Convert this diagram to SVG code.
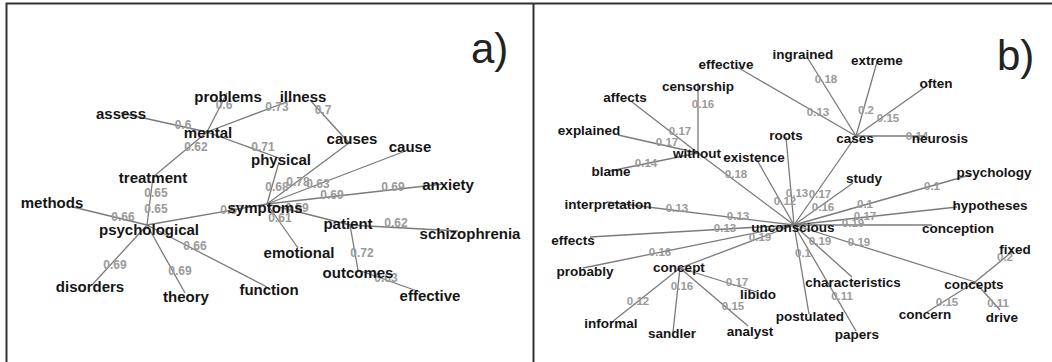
<svg xmlns="http://www.w3.org/2000/svg" width="1052" height="362" viewBox="0 0 1052 362">
<style>
.e{stroke:#7a7a7a;stroke-width:1.3;fill:none}
.n{font-family:"Liberation Sans",Arial,sans-serif;font-weight:bold;font-size:15px;fill:#151515;text-anchor:middle}
.nr{font-family:"Liberation Sans",Arial,sans-serif;font-weight:bold;font-size:13.5px;fill:#151515;text-anchor:middle}
.w{font-family:"Liberation Sans",Arial,sans-serif;font-weight:bold;font-size:12px;fill:#9a9a9a;text-anchor:middle}
.wr{font-family:"Liberation Sans",Arial,sans-serif;font-weight:bold;font-size:11.5px;fill:#9a9a9a;text-anchor:middle}
.p{font-family:"Liberation Sans",Arial,sans-serif;font-size:42px;fill:#222}
.f{stroke:#333;stroke-width:2;fill:none}
</style>
<rect width="1052" height="362" fill="#fff"/>
<g id="frame">
<path class="f" d="M6.5 362V3.5H1052M533.5 3.5V362"/>
<text class="p" x="471" y="63">a)</text>
<text class="p" x="997" y="70">b)</text>
</g>
<g id="connectors">
<line class="e" x1="121" y1="113" x2="207" y2="132"/>
<line class="e" x1="227" y1="93" x2="207" y2="132"/>
<line class="e" x1="207" y1="132" x2="292" y2="100"/>
<line class="e" x1="310" y1="100" x2="349" y2="143"/>
<line class="e" x1="207" y1="132" x2="279" y2="158"/>
<line class="e" x1="279" y1="162" x2="267" y2="204"/>
<line class="e" x1="349" y1="143" x2="267" y2="204"/>
<line class="e" x1="408" y1="150" x2="267" y2="204"/>
<line class="e" x1="443" y1="184" x2="267" y2="204"/>
<line class="e" x1="267" y1="204" x2="350" y2="225"/>
<line class="e" x1="267" y1="204" x2="298" y2="248"/>
<line class="e" x1="267" y1="204" x2="147" y2="225"/>
<line class="e" x1="207" y1="132" x2="153" y2="177"/>
<line class="e" x1="153" y1="177" x2="147" y2="225"/>
<line class="e" x1="73" y1="207" x2="147" y2="225"/>
<line class="e" x1="147" y1="225" x2="92" y2="285"/>
<line class="e" x1="147" y1="225" x2="185" y2="293"/>
<line class="e" x1="147" y1="225" x2="267" y2="287"/>
<line class="e" x1="350" y1="225" x2="458" y2="231"/>
<line class="e" x1="350" y1="225" x2="358" y2="270"/>
<line class="e" x1="358" y1="270" x2="420" y2="292"/>

<line class="e" x1="737" y1="67" x2="856" y2="136"/>
<line class="e" x1="807" y1="57" x2="856" y2="136"/>
<line class="e" x1="877" y1="62" x2="856" y2="136"/>
<line class="e" x1="928" y1="85" x2="856" y2="136"/>
<line class="e" x1="856" y1="136" x2="925" y2="136"/>
<line class="e" x1="856" y1="136" x2="794" y2="225"/>
<line class="e" x1="786" y1="137" x2="794" y2="225"/>
<line class="e" x1="757" y1="160" x2="794" y2="225"/>
<line class="e" x1="853" y1="183" x2="794" y2="225"/>
<line class="e" x1="970" y1="175" x2="794" y2="225"/>
<line class="e" x1="957" y1="207" x2="794" y2="225"/>
<line class="e" x1="932" y1="225" x2="794" y2="225"/>
<line class="e" x1="975" y1="282" x2="794" y2="225"/>
<line class="e" x1="852" y1="277" x2="794" y2="225"/>
<line class="e" x1="856" y1="331" x2="794" y2="225"/>
<line class="e" x1="809" y1="314" x2="794" y2="225"/>
<line class="e" x1="680" y1="268" x2="794" y2="225"/>
<line class="e" x1="583" y1="268" x2="794" y2="225"/>
<line class="e" x1="590" y1="237" x2="794" y2="225"/>
<line class="e" x1="607" y1="202" x2="794" y2="225"/>
<line class="e" x1="698" y1="153" x2="794" y2="225"/>
<line class="e" x1="632" y1="102" x2="698" y2="153"/>
<line class="e" x1="618" y1="135" x2="698" y2="153"/>
<line class="e" x1="610" y1="171" x2="698" y2="153"/>
<line class="e" x1="698" y1="83" x2="698" y2="153"/>
<line class="e" x1="680" y1="268" x2="612" y2="322"/>
<line class="e" x1="680" y1="268" x2="673" y2="332"/>
<line class="e" x1="680" y1="268" x2="748" y2="326"/>
<line class="e" x1="680" y1="268" x2="757" y2="292"/>
<line class="e" x1="975" y1="282" x2="1013" y2="251"/>
<line class="e" x1="975" y1="282" x2="927" y2="312"/>
<line class="e" x1="975" y1="282" x2="1000" y2="310"/>

<text class="w" x="183" y="129">0.6</text>
<text class="w" x="224" y="109">0.6</text>
<text class="w" x="277" y="111">0.73</text>
<text class="w" x="323" y="114">0.7</text>
<text class="w" x="263" y="151">0.71</text>
<text class="w" x="196" y="151">0.62</text>
<text class="w" x="156" y="197">0.65</text>
<text class="w" x="156" y="213">0.65</text>
<text class="w" x="123" y="221">0.66</text>
<text class="w" x="115" y="269">0.69</text>
<text class="w" x="180" y="275">0.69</text>
<text class="w" x="195" y="250">0.66</text>
<text class="w" x="232" y="214">0.57</text>
<text class="w" x="277" y="191">0.68</text>
<text class="w" x="298" y="186">0.78</text>
<text class="w" x="318" y="188">0.63</text>
<text class="w" x="393" y="191">0.69</text>
<text class="w" x="332" y="199">0.69</text>
<text class="w" x="297" y="212">0.59</text>
<text class="w" x="280" y="222">0.61</text>
<text class="w" x="396" y="227">0.62</text>
<text class="w" x="362" y="257">0.72</text>
<text class="w" x="386" y="282">0.63</text>

<text class="wr" x="703" y="108">0.16</text>
<text class="wr" x="680" y="135">0.17</text>
<text class="wr" x="667" y="146">0.17</text>
<text class="wr" x="646" y="167">0.14</text>
<text class="wr" x="736" y="178">0.18</text>
<text class="wr" x="818" y="116">0.13</text>
<text class="wr" x="826" y="83">0.18</text>
<text class="wr" x="866" y="114">0.2</text>
<text class="wr" x="888" y="122">0.15</text>
<text class="wr" x="917" y="140">0.14</text>
<text class="wr" x="797" y="197">0.13</text>
<text class="wr" x="820" y="198">0.17</text>
<text class="wr" x="785" y="205">0.12</text>
<text class="wr" x="823" y="211">0.16</text>
<text class="wr" x="865" y="208">0.1</text>
<text class="wr" x="865" y="220">0.17</text>
<text class="wr" x="853" y="227">0.19</text>
<text class="wr" x="932" y="190">0.1</text>
<text class="wr" x="820" y="245">0.19</text>
<text class="wr" x="859" y="246">0.19</text>
<text class="wr" x="803" y="257">0.1</text>
<text class="wr" x="842" y="300">0.11</text>
<text class="wr" x="1005" y="261">0.2</text>
<text class="wr" x="947" y="306">0.15</text>
<text class="wr" x="998" y="307">0.11</text>
<text class="wr" x="677" y="212">0.13</text>
<text class="wr" x="738" y="220">0.13</text>
<text class="wr" x="725" y="232">0.13</text>
<text class="wr" x="660" y="256">0.16</text>
<text class="wr" x="760" y="241">0.19</text>
<text class="wr" x="638" y="305">0.12</text>
<text class="wr" x="682" y="290">0.16</text>
<text class="wr" x="733" y="310">0.15</text>
<text class="wr" x="737" y="286">0.17</text>
</g>
<g id="n-assess"><text class="n" x="121" y="119">assess</text></g>
<g id="n-problems"><text class="n" x="228" y="102">problems</text></g>
<g id="n-mental"><text class="n" x="208" y="138">mental</text></g>
<g id="n-illness"><text class="n" x="303" y="102">illness</text></g>
<g id="n-causes"><text class="n" x="352" y="144">causes</text></g>
<g id="n-cause"><text class="n" x="410" y="152">cause</text></g>
<g id="n-physical"><text class="n" x="281" y="165">physical</text></g>
<g id="n-anxiety"><text class="n" x="448" y="190">anxiety</text></g>
<g id="n-symptoms"><text class="n" x="265" y="213">symptoms</text></g>
<g id="n-treatment"><text class="n" x="153" y="183">treatment</text></g>
<g id="n-methods"><text class="n" x="52" y="208">methods</text></g>
<g id="n-psychological"><text class="n" x="149" y="235">psychological</text></g>
<g id="n-disorders"><text class="n" x="90" y="292">disorders</text></g>
<g id="n-theory"><text class="n" x="186" y="302">theory</text></g>
<g id="n-function"><text class="n" x="269" y="295">function</text></g>
<g id="n-emotional"><text class="n" x="299" y="258">emotional</text></g>
<g id="n-patient"><text class="n" x="348" y="229">patient</text></g>
<g id="n-schizophrenia"><text class="n" x="470" y="239">schizophrenia</text></g>
<g id="n-outcomes"><text class="n" x="358" y="278">outcomes</text></g>
<g id="n-effective-a"><text class="n" x="430" y="301">effective</text></g>

<g id="n-effective-b"><text class="nr" x="726" y="69">effective</text></g>
<g id="n-censorship"><text class="nr" x="698" y="91">censorship</text></g>
<g id="n-affects"><text class="nr" x="625" y="102">affects</text></g>
<g id="n-explained"><text class="nr" x="589" y="135">explained</text></g>
<g id="n-without"><text class="nr" x="697" y="158">without</text></g>
<g id="n-blame"><text class="nr" x="611" y="176">blame</text></g>
<g id="n-existence"><text class="nr" x="754" y="162">existence</text></g>
<g id="n-roots"><text class="nr" x="786" y="140">roots</text></g>
<g id="n-ingrained"><text class="nr" x="803" y="59">ingrained</text></g>
<g id="n-extreme"><text class="nr" x="877" y="65">extreme</text></g>
<g id="n-often"><text class="nr" x="936" y="88">often</text></g>
<g id="n-cases"><text class="nr" x="855" y="143">cases</text></g>
<g id="n-neurosis"><text class="nr" x="940" y="143">neurosis</text></g>
<g id="n-study"><text class="nr" x="864" y="183">study</text></g>
<g id="n-psychology"><text class="nr" x="994" y="177">psychology</text></g>
<g id="n-hypotheses"><text class="nr" x="990" y="210">hypotheses</text></g>
<g id="n-conception"><text class="nr" x="958" y="233">conception</text></g>
<g id="n-unconscious"><text class="nr" x="793" y="232">unconscious</text></g>
<g id="n-interpretation"><text class="nr" x="608" y="209">interpretation</text></g>
<g id="n-effects"><text class="nr" x="573" y="245">effects</text></g>
<g id="n-probably"><text class="nr" x="585" y="276">probably</text></g>
<g id="n-concept"><text class="nr" x="679" y="272">concept</text></g>
<g id="n-informal"><text class="nr" x="611" y="328">informal</text></g>
<g id="n-sandler"><text class="nr" x="672" y="338">sandler</text></g>
<g id="n-analyst"><text class="nr" x="750" y="336">analyst</text></g>
<g id="n-libido"><text class="nr" x="758" y="299">libido</text></g>
<g id="n-characteristics"><text class="nr" x="853" y="287">characteristics</text></g>
<g id="n-postulated"><text class="nr" x="810" y="321">postulated</text></g>
<g id="n-papers"><text class="nr" x="857" y="339">papers</text></g>
<g id="n-fixed"><text class="nr" x="1015" y="254">fixed</text></g>
<g id="n-concepts"><text class="nr" x="974" y="289">concepts</text></g>
<g id="n-concern"><text class="nr" x="925" y="319">concern</text></g>
<g id="n-drive"><text class="nr" x="1002" y="322">drive</text></g>
</svg>
